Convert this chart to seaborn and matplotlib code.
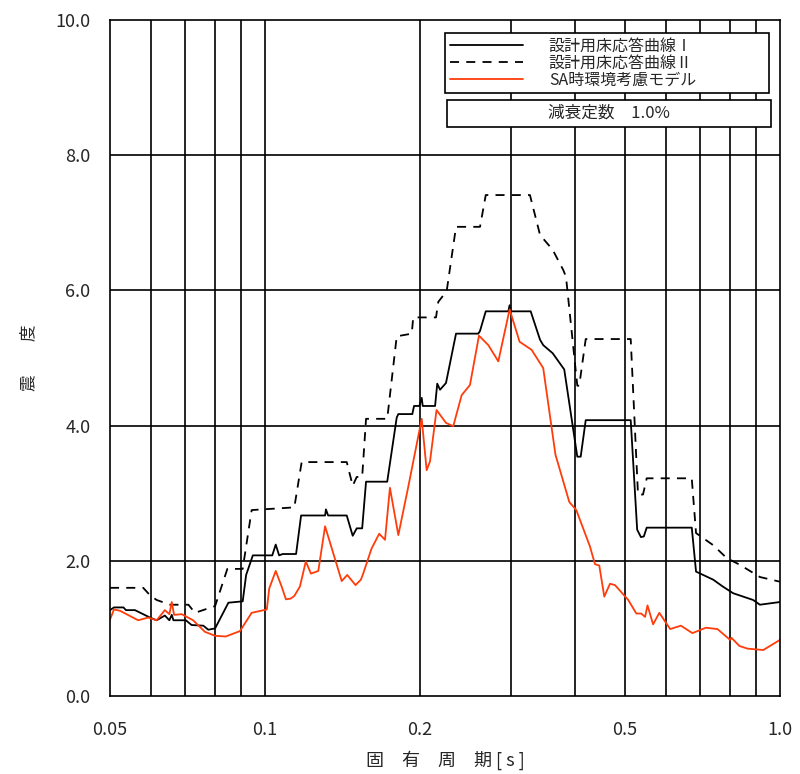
import matplotlib
matplotlib.use("Agg")
import matplotlib.pyplot as plt
import matplotlib.ticker as mticker
from matplotlib.patches import Rectangle
import seaborn as sns
import pandas as pd

# 設計用床応答曲線Ⅰ
period_1 = [0.05, 0.0509, 0.0531, 0.0537, 0.0559, 0.0598, 0.0616, 0.0639, 0.0652, 0.0659,
            0.0664, 0.0702, 0.0720, 0.0759, 0.0776, 0.0800, 0.0849, 0.0905, 0.0919, 0.0947,
            0.1033, 0.1049, 0.1065, 0.1082, 0.1149, 0.1175, 0.1308, 0.1313, 0.1326, 0.1441,
            0.1480, 0.1507, 0.1544, 0.1571, 0.1727, 0.1802, 0.1815, 0.1932, 0.1947, 0.1994,
            0.2015, 0.2024, 0.2139, 0.2160, 0.2187, 0.2246, 0.2349, 0.2595, 0.2615, 0.2683,
            0.2968, 0.2985, 0.2999, 0.3280, 0.3420, 0.3469, 0.3619, 0.3811, 0.4040, 0.4102,
            0.4195, 0.513, 0.528, 0.537, 0.544, 0.551, 0.674, 0.687, 0.742, 0.774,
            0.811, 0.887, 0.914, 1.0]
accel_1 = [1.27, 1.31, 1.31, 1.27, 1.27, 1.16, 1.12, 1.19, 1.12, 1.20,
           1.12, 1.12, 1.05, 1.04, 0.98, 1.00, 1.38, 1.40, 1.79, 2.08,
           2.08, 2.24, 2.08, 2.10, 2.10, 2.67, 2.67, 2.76, 2.67, 2.67,
           2.37, 2.48, 2.48, 3.17, 3.17, 4.12, 4.17, 4.17, 4.29, 4.29,
           4.41, 4.29, 4.29, 4.62, 4.53, 4.63, 5.36, 5.36, 5.40, 5.69,
           5.69, 5.78, 5.69, 5.69, 5.27, 5.19, 5.07, 4.83, 3.54, 3.54,
           4.08, 4.08, 2.46, 2.35, 2.36, 2.49, 2.49, 1.84, 1.72, 1.62,
           1.52, 1.42, 1.35, 1.39]

# 設計用床応答曲線Ⅱ
period_2 = [0.05, 0.0580, 0.0598, 0.0616, 0.0654, 0.0710, 0.0731, 0.0800, 0.0845, 0.0905,
            0.0942, 0.1140, 0.1178, 0.1441, 0.1480, 0.1507, 0.1544, 0.1571, 0.1727, 0.1802,
            0.1927, 0.1940, 0.2148, 0.2170, 0.2253, 0.2349, 0.2615, 0.2683, 0.3269, 0.3420,
            0.3619, 0.3795, 0.3841, 0.4040, 0.4075, 0.4195, 0.513, 0.530, 0.542, 0.551,
            0.674, 0.687, 0.742, 0.788, 0.836, 0.914, 1.0]
accel_2 = [1.60, 1.60, 1.49, 1.42, 1.35, 1.35, 1.23, 1.33, 1.88, 1.88,
           2.75, 2.79, 3.46, 3.46, 3.11, 3.24, 3.24, 4.10, 4.10, 5.32,
           5.36, 5.60, 5.60, 5.83, 5.99, 6.94, 6.94, 7.41, 7.41, 6.82,
           6.60, 6.30, 6.20, 4.59, 4.59, 5.28, 5.28, 2.98, 2.98, 3.22,
           3.22, 2.41, 2.23, 2.04, 1.94, 1.76, 1.69]

# SA時環境考慮モデル
period_sa = [0.05, 0.0509, 0.0523, 0.0567, 0.0593, 0.0616, 0.0639, 0.0652, 0.0659, 0.0666,
             0.0689, 0.0725, 0.0764, 0.0800, 0.0839, 0.0894, 0.0942, 0.1008, 0.1019, 0.1049,
             0.1077, 0.1098, 0.1121, 0.1140, 0.1169, 0.1200, 0.1228, 0.1269, 0.1308, 0.1409,
             0.1444, 0.1499, 0.1535, 0.1551, 0.1610, 0.1666, 0.1710, 0.1748, 0.1815, 0.1898,
             0.2015, 0.2060, 0.2091, 0.2153, 0.2246, 0.2320, 0.2409, 0.2500, 0.2603, 0.2714,
             0.2838, 0.2985, 0.3121, 0.3294, 0.3469, 0.3664, 0.3898, 0.4022, 0.4276, 0.4372,
             0.4457, 0.4558, 0.4676, 0.4782, 0.5074, 0.526, 0.5375, 0.547, 0.553, 0.567,
             0.583, 0.612, 0.642, 0.676, 0.718, 0.756, 0.800, 0.805, 0.834, 0.865,
             0.928, 1.0]
accel_sa = [1.13, 1.28, 1.26, 1.12, 1.16, 1.12, 1.27, 1.21, 1.39, 1.20,
            1.21, 1.12, 0.95, 0.89, 0.88, 0.96, 1.23, 1.28, 1.59, 1.85,
            1.62, 1.43, 1.44, 1.48, 1.62, 1.99, 1.81, 1.85, 2.51, 1.70,
            1.79, 1.64, 1.72, 1.81, 2.18, 2.40, 2.31, 3.08, 2.38, 3.10,
            4.10, 3.34, 3.47, 4.23, 4.04, 3.99, 4.45, 4.60, 5.33, 5.19,
            4.95, 5.72, 5.24, 5.12, 4.85, 3.57, 2.87, 2.75, 2.21, 1.95,
            1.93, 1.47, 1.66, 1.64, 1.42, 1.22, 1.22, 1.17, 1.34, 1.06,
            1.23, 0.99, 1.04, 0.93, 1.01, 0.99, 0.83, 0.86, 0.74, 0.70,
            0.68, 0.83]

labels = ["設計用床応答曲線Ⅰ", "設計用床応答曲線Ⅱ", "SA時環境考慮モデル"]
x_ticks = [0.05, 0.1, 0.2, 0.5, 1.0]
x_tick_labels = ["0.05", "0.1", "0.2", "0.5", "1.0"]
x_grid = [0.06, 0.07, 0.08, 0.09, 0.1, 0.2, 0.3, 0.4, 0.5, 0.6, 0.7, 0.8, 0.9]
y_ticks = [0, 2, 4, 6, 8, 10]
damping_text = "減衰定数　1.0%"

sns.set_style("white")
plt.rcParams['font.family'] = ['Noto Sans CJK JP', 'DejaVu Sans']

fig = plt.figure(figsize=(8, 7.74), dpi=100)
ax = fig.add_axes([0.1375, 0.1008, 0.8375, 0.8734])

df1 = pd.DataFrame({"T": period_1, "A": accel_1})
df2 = pd.DataFrame({"T": period_2, "A": accel_2})
dfs = pd.DataFrame({"T": period_sa, "A": accel_sa})

sns.lineplot(data=df1, x="T", y="A", ax=ax, color="black", lw=1.3,
             estimator=None, sort=False, label=labels[0])
sns.lineplot(data=df2, x="T", y="A", ax=ax, color="black", lw=1.3, ls=(0, (5, 4)),
             estimator=None, sort=False, label=labels[1])
sns.lineplot(data=dfs, x="T", y="A", ax=ax, color="#ff3c0a", lw=1.3,
             estimator=None, sort=False, label=labels[2])

ax.set_xscale("log")
ax.set_xlim(0.05, 1.0)
ax.set_ylim(0, 10)

for xv in x_grid:
    ax.axvline(xv, color="black", lw=1.2, zorder=0)
for yv in y_ticks[1:-1]:
    ax.axhline(yv, color="black", lw=1.2, zorder=0)

ax.xaxis.set_major_locator(mticker.FixedLocator(x_ticks))
ax.xaxis.set_minor_locator(mticker.NullLocator())
ax.set_xticklabels(x_tick_labels)
ax.set_yticks(y_ticks)
ax.set_yticklabels([f"{v:.1f}" for v in y_ticks])
ax.tick_params(axis="both", length=0, labelsize=13)
ax.tick_params(axis="x", pad=18)
ax.tick_params(axis="y", pad=14)

for s in ax.spines.values():
    s.set_color("black")
    s.set_linewidth(1.2)

ax.set_xlabel("固　有　周　期 [ s ]", fontsize=13)
ax.xaxis.set_label_coords(0.5, -0.08)
ax.set_ylabel("震　　度", fontsize=12)
ax.yaxis.set_label_coords(-0.108, 0.5)

leg = ax.legend(loc="upper left", bbox_to_anchor=(0.5, 0.981, 0.4836, 0.0),
                mode="expand", fontsize=11.5, frameon=True, fancybox=False,
                edgecolor="black", framealpha=1, handlelength=4.6,
                handletextpad=1.6, labelspacing=0.0, borderpad=0.3,
                borderaxespad=0)
leg.get_frame().set_linewidth(1.2)

ax.add_patch(Rectangle((0.503, 0.842), 0.4836, 0.04, transform=ax.transAxes,
                       facecolor="white", edgecolor="black", lw=1.2, zorder=5))
ax.text(0.503 + 0.4836 / 2, 0.862, damping_text, transform=ax.transAxes,
        ha="center", va="center", fontsize=12, zorder=6)

fig.savefig("out.png", dpi=100)
